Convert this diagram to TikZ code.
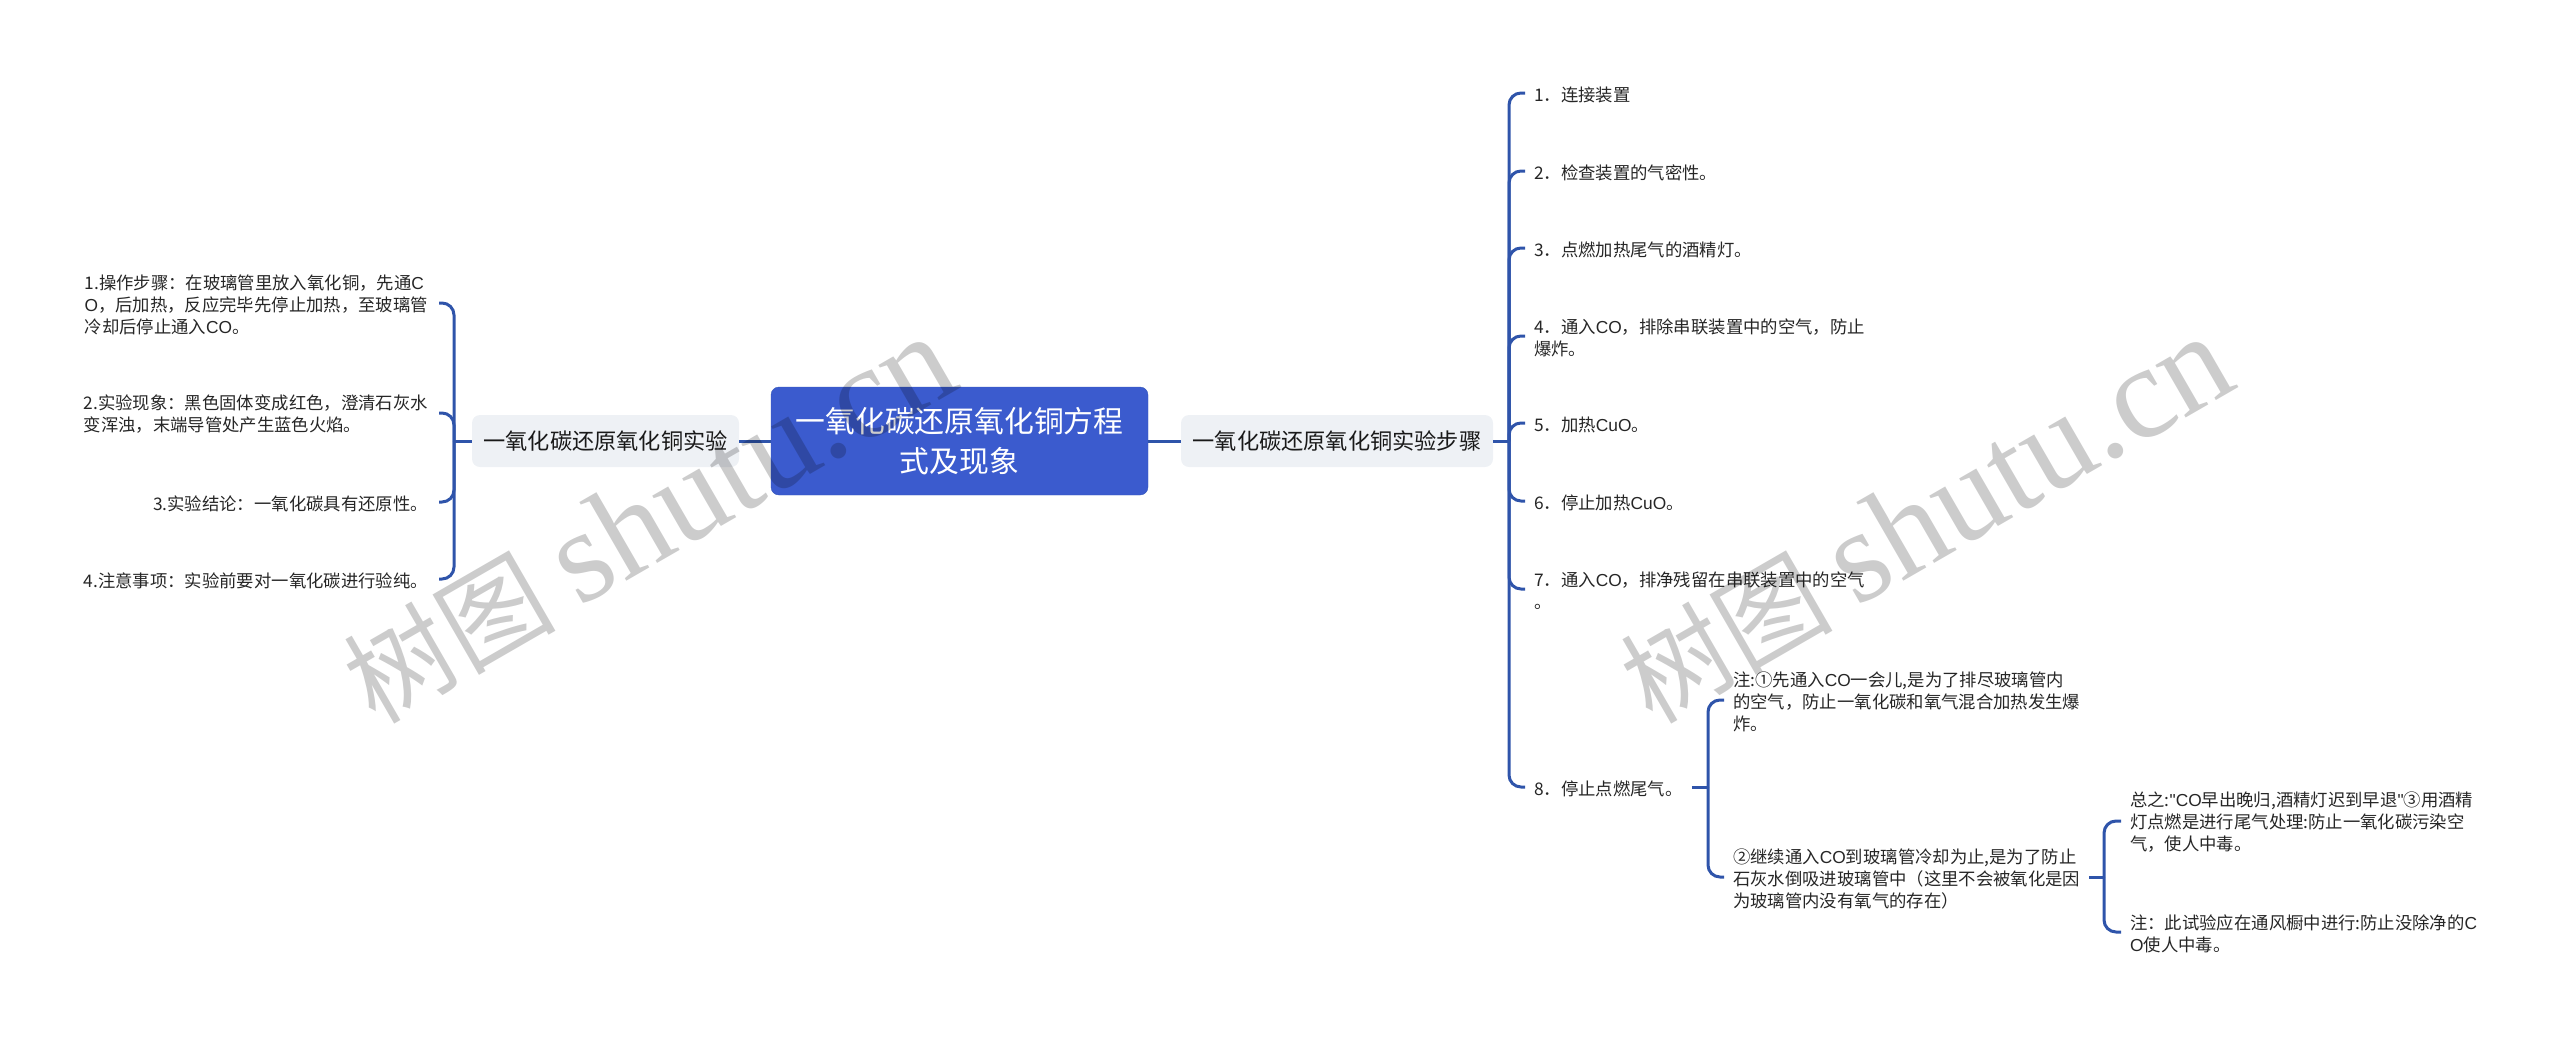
\documentclass[tikz,border=0pt]{standalone}
\usepackage{fontspec}
\usepackage{xcolor}
\setmainfont{Noto Sans CJK SC}
\newfontfamily\enfont{Liberation Sans}
\newfontfamily\wmfont{Liberation Serif}
\newcommand{\en}[1]{{\enfont #1}}
\definecolor{linkblue}{RGB}{47,84,170}
\definecolor{rootblue}{RGB}{59,91,206}
\definecolor{branchgray}{RGB}{238,241,245}
\tikzset{
    link/.style={draw=linkblue, line width=3pt, rounded corners=12pt},
    rootbox/.style={fill=rootblue, draw=linkblue!60!rootblue, rounded corners=8pt, text=white, align=center,
        minimum width=377pt, minimum height=108pt, font=\fontsize{29.8}{40}\selectfont},
    branchbox/.style={fill=branchgray, rounded corners=8pt, minimum height=52pt, inner xsep=0pt, text=black!90,
        font=\fontsize{22.2}{28}\selectfont},
    leafl/.style={anchor=east, align=left, inner xsep=11pt, inner ysep=2pt, yshift=-1.5pt, text=black!85,
        font=\fontsize{17.35}{22}\selectfont},
    leafr/.style={anchor=west, align=left, inner xsep=9pt, inner ysep=2pt, yshift=-1.5pt, text=black!85,
        font=\fontsize{17.35}{22}\selectfont},
    mark text/.style={rotate=30, text=black, opacity=0.2, font=\fontsize{106}{120}\selectfont}
}
\begin{document}
\begin{tikzpicture}[x=1pt, y=-1pt]
        \useasboundingbox (0, 0) rectangle (2560, 1037);

        \node[rootbox] (root) at (959.5, 441) {一氧化碳还原氧化铜方程\\式及现象};
        \node[branchbox, minimum width=267pt] (expt) at (605.5, 441) {一氧化碳还原氧化铜实验};
        \node[branchbox, minimum width=312pt] (steps) at (1337, 441) {一氧化碳还原氧化铜实验步骤};

        \coordinate (jl) at (454, 441);
        \coordinate (jr) at (1509, 441);
        \coordinate (js) at (1708, 787);
        \coordinate (jt) at (2104, 877);

        \node[leafl] (l1) at (439, 303) {1.操作步骤：在玻璃管里放入氧化铜，先通\en{C}\\\en{O}，后加热，反应完毕先停止加热，至玻璃管\\冷却后停止通入\en{CO}。};
        \node[leafl] (l2) at (439, 413) {2.实验现象：黑色固体变成红色，澄清石灰水\\变浑浊，末端导管处产生蓝色火焰。};
        \node[leafl] (l3) at (439, 502) {3.实验结论：一氧化碳具有还原性。};
        \node[leafl] (l4) at (439, 579) {4.注意事项：实验前要对一氧化碳进行验纯。};

        \node[leafr] (r1) at (1525, 93) {1．连接装置};
        \node[leafr] (r2) at (1525, 171) {2．检查装置的气密性。};
        \node[leafr] (r3) at (1525, 248) {3．点燃加热尾气的酒精灯。};
        \node[leafr] (r4) at (1525, 336) {4．通入\en{CO}，排除串联装置中的空气，防止\\爆炸。};
        \node[leafr] (r5) at (1525, 423) {5．加热\en{CuO}。};
        \node[leafr] (r6) at (1525, 501) {6．停止加热\en{CuO}。};
        \node[leafr] (r7) at (1525, 589) {7．通入\en{CO}，排净残留在串联装置中的空气\\。};
        \node[leafr] (r8) at (1525, 787) {8．停止点燃尾气。};

        \node[leafr] (s1) at (1724, 700) {注:①先通入\en{CO}一会儿,是为了排尽玻璃管内\\的空气，防止一氧化碳和氧气混合加热发生爆\\炸。};
        \node[leafr] (s2) at (1724, 877) {②继续通入\en{CO}到玻璃管冷却为止,是为了防止\\石灰水倒吸进玻璃管中（这里不会被氧化是因\\为玻璃管内没有氧气的存在）};

        \node[leafr] (t1) at (2121, 821) {总之:\en{"CO}早出晚归,酒精灯迟到早退\en{"}③用酒精\\灯点燃是进行尾气处理:防止一氧化碳污染空\\气，使人中毒。};
        \node[leafr] (t2) at (2121, 932) {注：此试验应在通风橱中进行:防止没除净的\en{C}\\\en{O}使人中毒。};

        \draw[link] (root) to (expt)
            (root) to (steps)
            (expt.west) to (jl)
            (steps.east) to (jr)
            ([yshift=1.5pt]r8.east) to (js)
            ([yshift=1.5pt]s2.east) to (jt);

        \foreach \leaf in {l1, l2, l3, l4} {
            \draw[link] (jl) |- ([yshift=1.5pt]\leaf.east);
        }
        \foreach \leaf in {r1, r2, r3, r4, r5, r6, r7, r8} {
            \draw[link] (jr) |- ([yshift=1.5pt]\leaf.west);
        }
        \foreach \leaf in {s1, s2} {
            \draw[link] (js) |- ([yshift=1.5pt]\leaf.west);
        }
        \foreach \leaf in {t1, t2} {
            \draw[link] (jt) |- ([yshift=1.5pt]\leaf.west);
        }

        \node[mark text] (mark1) at (649, 520) {树图 {\wmfont\fontsize{132}{120}\selectfont shutu.cn}};
        \node[mark text] (mark2) at (1926, 520) {树图 {\wmfont\fontsize{132}{120}\selectfont shutu.cn}};
    \end{tikzpicture}
\end{document}
